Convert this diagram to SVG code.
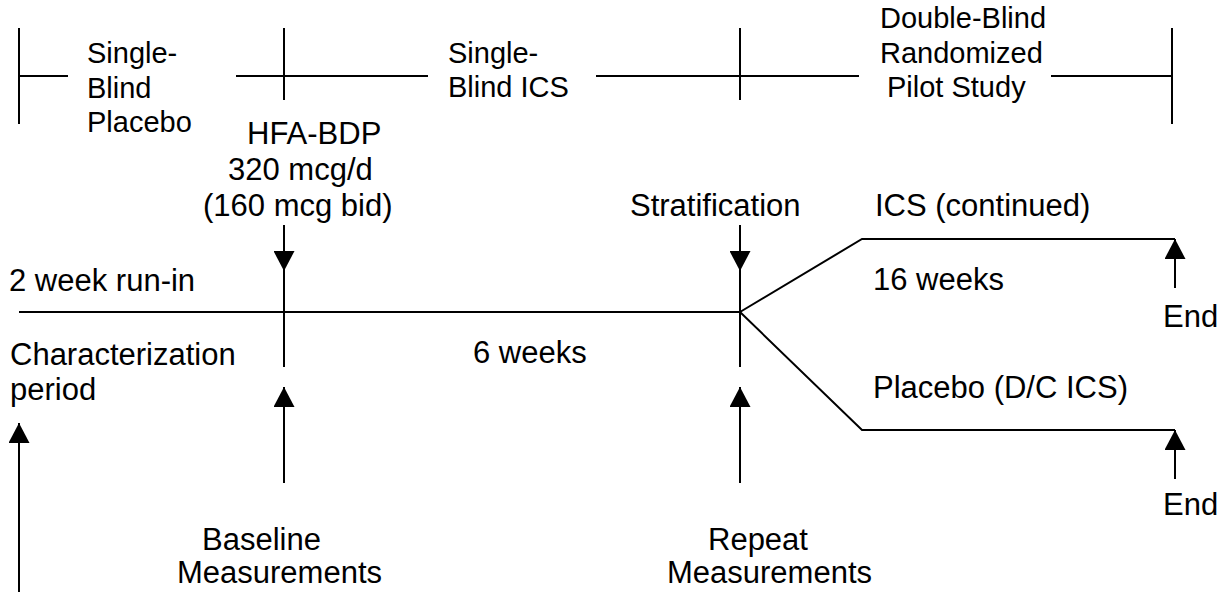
<svg xmlns="http://www.w3.org/2000/svg" width="1224" height="592" viewBox="0 0 1224 592">
<style>
  .ln { stroke:#000; stroke-width:2; fill:none; }
  .t { font-family:"Liberation Sans", Arial, sans-serif; font-size:31px; fill:#000; }
  .ts { font-family:"Liberation Sans", Arial, sans-serif; font-size:29px; fill:#000; }
</style>
<defs>
  <marker id="ah" viewBox="0 0 20 21" refX="20" refY="10.5" markerWidth="20" markerHeight="21" markerUnits="userSpaceOnUse" orient="auto">
    <path d="M0,0 L20,10.5 L0,21 Z" fill="#000"/>
  </marker>
</defs>
<rect width="1224" height="592" fill="#fff"/>

<g id="phase-bar">
  <line class="ln" x1="19" y1="28" x2="19" y2="124"/>
  <line class="ln" x1="284" y1="28" x2="284" y2="100"/>
  <line class="ln" x1="740" y1="28" x2="740" y2="100"/>
  <line class="ln" x1="1172" y1="28" x2="1172" y2="124"/>
  <line class="ln" x1="19" y1="76" x2="68" y2="76"/>
  <line class="ln" x1="236" y1="76" x2="428" y2="76"/>
  <line class="ln" x1="596" y1="76" x2="859" y2="76"/>
  <line class="ln" x1="1051" y1="76" x2="1172" y2="76"/>
</g>

<g id="label-single-blind-placebo">
  <text class="ts" x="87" y="63">Single-</text>
  <text class="ts" x="87" y="98">Blind</text>
  <text class="ts" x="87" y="132">Placebo</text>
</g>
<g id="label-single-blind-ics">
  <text class="ts" x="448" y="63">Single-</text>
  <text class="ts" x="448" y="97">Blind ICS</text>
</g>
<g id="label-double-blind">
  <text class="ts" x="880" y="28">Double-Blind</text>
  <text class="ts" x="880" y="63">Randomized</text>
  <text class="ts" x="887" y="97">Pilot Study</text>
</g>

<g id="label-hfa-bdp">
  <text class="t" x="247" y="144">HFA-BDP</text>
  <text class="t" x="228" y="180">320 mcg/d</text>
  <text class="t" x="203" y="216">(160 mcg bid)</text>
</g>
<g id="label-stratification">
  <text class="t" x="630" y="216">Stratification</text>
</g>
<g id="label-ics-continued">
  <text class="t" x="875" y="216">ICS (continued)</text>
</g>
<g id="label-run-in">
  <text class="t" x="9" y="291">2 week run-in</text>
</g>
<g id="label-characterization">
  <text class="t" x="10" y="365">Characterization</text>
  <text class="t" x="10" y="400">period</text>
</g>
<g id="label-6-weeks">
  <text class="t" x="473" y="363">6 weeks</text>
</g>
<g id="label-16-weeks">
  <text class="t" x="873" y="290">16 weeks</text>
</g>
<g id="label-end-1">
  <text class="t" x="1163" y="327">End</text>
</g>
<g id="label-placebo-dc">
  <text class="t" x="873" y="398">Placebo (D/C ICS)</text>
</g>
<g id="label-end-2">
  <text class="t" x="1163" y="515">End</text>
</g>
<g id="label-baseline">
  <text class="t" x="202" y="550">Baseline</text>
  <text class="t" x="177" y="583">Measurements</text>
</g>
<g id="label-repeat">
  <text class="t" x="708" y="550">Repeat</text>
  <text class="t" x="667" y="583">Measurements</text>
</g>

<g id="connectors">
  <polyline class="ln" points="19,312 740,312"/>
  <polyline class="ln" points="740,312 862,239 1175,239"/>
  <polyline class="ln" points="740,312 862,430 1175,430"/>
  <line class="ln" x1="284" y1="225" x2="284" y2="271" marker-end="url(#ah)"/>
  <line class="ln" x1="284" y1="271" x2="284" y2="367"/>
  <line class="ln" x1="740" y1="225" x2="740" y2="271" marker-end="url(#ah)"/>
  <line class="ln" x1="740" y1="271" x2="740" y2="367"/>
  <line class="ln" x1="284" y1="483" x2="284" y2="387" marker-end="url(#ah)"/>
  <line class="ln" x1="740" y1="483" x2="740" y2="387" marker-end="url(#ah)"/>
  <line class="ln" x1="19" y1="592" x2="19" y2="423" marker-end="url(#ah)"/>
  <line class="ln" x1="1175" y1="288" x2="1175" y2="239" marker-end="url(#ah)"/>
  <line class="ln" x1="1175" y1="479" x2="1175" y2="430" marker-end="url(#ah)"/>
</g>
</svg>
